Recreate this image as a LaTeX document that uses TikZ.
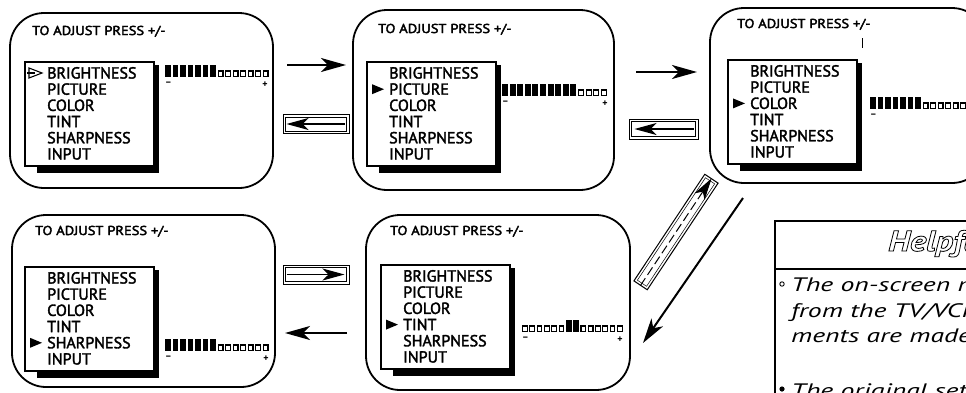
\documentclass[tikz,border=0pt]{standalone}
\usepackage{fontspec}
\setmainfont{PT Sans}
\newfontfamily\widefont[FakeStretch=1.12]{PT Sans}
\newfontfamily\hintfont[FakeStretch=1.42]{PT Sans}
\newfontfamily\headfont[FakeStretch=1.2]{PT Sans}
\newcommand\heavy[1]{\special{pdf:literal direct 2 Tr 0.35 w}#1\special{pdf:literal direct 0 Tr}}
\newcommand\hollow[1]{\special{pdf:literal direct 1 Tr 0.8 w}#1\special{pdf:literal direct 0 Tr}}
\usetikzlibrary{arrows.meta}
\tikzset{
  screenbox/.style={draw, line width=1.8pt, rounded corners=34pt, inner sep=0pt},
  titletext/.style={anchor=base west, inner sep=0pt, font=\widefont\fontsize{12.9}{15}\selectfont},
  itemtext/.style={anchor=base west, inner sep=0pt, font=\fontsize{16}{18}\selectfont},
  pmtext/.style={inner sep=0pt, font=\bfseries\fontsize{10}{10}\selectfont},
  hinttext/.style={anchor=base west, inner sep=0pt, font=\hintfont\itshape\fontsize{19.5}{22}\selectfont},
  bigarrow/.style={line width=2pt, -{Stealth[length=25pt, width=14pt, inset=7pt]}},
  boxarrow/.style={line width=1.3pt, -{Stealth[length=22pt, width=12pt, inset=6pt]}},
  arrowbox/.style={draw, line width=1pt, inner sep=0pt},
  arrowboxin/.style={draw, line width=0.5pt, inner sep=0pt},
}
\newcommand\drawmenu[5]{% #1 name, #2 x, #3 y, #4 selected (1..6), #5 open marker (1) or filled (0)
  \fill (#2+129,#3+3) rectangle (#2+134,#3+111);
  \fill (#2+12,#3+104) rectangle (#2+134,#3+111);
  \draw[line width=1.2pt, fill=white] (#2,#3) rectangle (#2+129,#3+104);
  \foreach \t [count=\i from 0] in {BRIGHTNESS,PICTURE,COLOR,TINT,SHARPNESS,INPUT}
    \node[itemtext] (#1-\i) at (#2+22,#3+16.5+16.2*\i) {\heavy{\t}};
  \pgfmathsetmacro\mb{#3+16.5+16.2*(#4-1)}
  \ifnum#5=1
    \draw[line width=1.1pt] (#2+4,\mb-10.5) -- (#2+17,\mb-5.5) -- (#2+4,\mb-0.5) -- cycle;
    \draw[line width=1.1pt] (#2+2,\mb-5.5) -- (#2+10,\mb-5.5);
  \else
    \fill (#2+5,\mb-10.5) -- (#2+17,\mb-5.5) -- (#2+5,\mb-0.5) -- cycle;
  \fi
}
\newcommand\lvlbar[5]{% #1 name, #2 x, #3 y, #4 segment width, #5 pattern
  \foreach \v [count=\i from 0] in {#5} {
    \ifnum\v=1
      \fill (#2+\i*#4,#3) rectangle (#2+\i*#4+#4-1.6,#3+12);
    \else
      \draw[line width=1.1pt, fill=white] (#2+\i*#4+0.6,#3+6) rectangle (#2+\i*#4+#4-2,#3+11.4);
    \fi
  }
  \node[pmtext] (#1-minus) at (#2+3.5,#3+19) {–};
}
\newcommand\lvlplus[3]{\node[pmtext] (#1-plus) at (#2,#3) {+};}
\begin{document}
\begin{tikzpicture}[x=1pt,y=-1pt]
\useasboundingbox (0,0) rectangle (966,392);
\clip (0,0) rectangle (966,392);
\fill[white] (0,0) rectangle (966,392);

% screens
\node[screenbox, minimum width=263pt, minimum height=175pt] (s1) at (141.5,100.5) {};
\node[screenbox, minimum width=261pt, minimum height=180pt] (s2) at (483.5,100) {};
\node[screenbox, minimum width=276pt, minimum height=175pt] (s3) at (848,95.5) {};
\node[screenbox, minimum width=263pt, minimum height=172pt] (s4) at (143.5,301) {};
\node[screenbox, minimum width=264pt, minimum height=175pt] (s5) at (498,302.5) {};

% titles
\node[titletext] (t1) at (32,35) {\heavy{TO ADJUST PRESS +/-}};
\node[titletext] (t2) at (378,33) {\heavy{TO ADJUST PRESS +/-}};
\node[titletext] (t3) at (737,28) {\heavy{TO ADJUST PRESS +/-}};
\node[titletext] (t4) at (35,235) {\heavy{TO ADJUST PRESS +/-}};
\node[titletext] (t5) at (390,235) {\heavy{TO ADJUST PRESS +/-}};
\draw[line width=1pt] (862,38) -- (862,48);

% menus
\drawmenu{m1}{25}{62}{1}{1}
\drawmenu{m2}{367}{62}{2}{0}
\drawmenu{m3}{728}{60}{3}{0}
\drawmenu{m4}{25}{267}{5}{0}
\drawmenu{m5}{381}{265}{4}{0}

% level bars
\lvlbar{l1}{165}{65}{7.5}{1,1,1,1,1,1,1,0,0,0,0,0,0,0}
\lvlplus{l1}{265}{85}
\lvlbar{l2}{502}{84}{7.6}{1,1,1,1,1,1,1,1,1,1,0,0,0,0}
\lvlplus{l2}{605}{104}
\lvlbar{l3}{870}{97}{7.5}{1,1,1,1,1,1,1,0,0,0,0,0,0,0}
\lvlbar{l4}{165}{339}{7.5}{1,1,1,1,1,1,1,0,0,0,0,0,0,0}
\lvlplus{l4}{266}{359}
\lvlbar{l5}{522}{320}{7.3}{0,0,0,0,0,0,1,1,0,0,0,0,0,0}
\lvlplus{l5}{620}{340}

% arrows between screens
\coordinate (a1s) at (287,65);
\coordinate (a1e) at (346,65);
\draw[bigarrow] (a1s) -- (a1e);
\node[arrowbox, minimum width=66pt, minimum height=19pt] (b1) at (316,124) {};
\node[arrowboxin, minimum width=61pt, minimum height=14pt] (b1i) at (b1.center) {};
\draw[boxarrow] ([xshift=-5pt]b1.east) -- ([xshift=4pt]b1.west);

\coordinate (a2s) at (636,72);
\coordinate (a2e) at (697,72);
\draw[bigarrow] (a2s) -- (a2e);
\node[arrowbox, minimum width=69pt, minimum height=20pt] (b2) at (663.5,129) {};
\node[arrowboxin, minimum width=64pt, minimum height=15pt] (b2i) at (b2.center) {};
\draw[boxarrow] ([xshift=-5pt]b2.east) -- ([xshift=6pt]b2.west);

\node[arrowbox, minimum width=128pt, minimum height=16pt, rotate=56.4] (b3) at (676,232) {};
\node[arrowboxin, minimum width=123pt, minimum height=11pt, rotate=56.4] (b3i) at (b3.center) {};
\draw[boxarrow, dash pattern=on 9pt off 4pt, line width=1pt] (b3.west) -- (b3.east);
\coordinate (a3s) at (743,198);
\coordinate (a3e) at (643,343);
\draw[bigarrow] (a3s) -- (a3e);

\node[arrowbox, minimum width=66pt, minimum height=19pt] (b4) at (316,274.5) {};
\node[arrowboxin, minimum width=61pt, minimum height=14pt] (b4i) at (b4.center) {};
\draw[boxarrow] ([xshift=4pt]b4.west) -- ([xshift=-5pt]b4.east);
\coordinate (a4s) at (347,333);
\coordinate (a4e) at (285,333);
\draw[bigarrow] (a4s) -- (a4e);

% helpful hints box
\draw[line width=2.4pt] (775,221) rectangle (1000,420);
\draw[line width=2.4pt] (775,269) -- (1000,269);
\node[anchor=base west, inner sep=0pt, font=\headfont\bfseries\itshape\fontsize{29}{32}\selectfont] (ht) at (888,251)
  {\hollow{Helpful Hints}};
\draw[line width=0.9pt] (782,284) circle (2.2);
\fill (782,389) circle (2.6);
\node[hinttext] (h1) at (791,291) {The on-screen menu};
\node[hinttext] (h2) at (791,317) {from the TV/VCR};
\node[hinttext] (h3) at (791,342) {ments are made};
\node[hinttext] (h4) at (791,397) {The original settings};
\end{tikzpicture}
\end{document}
